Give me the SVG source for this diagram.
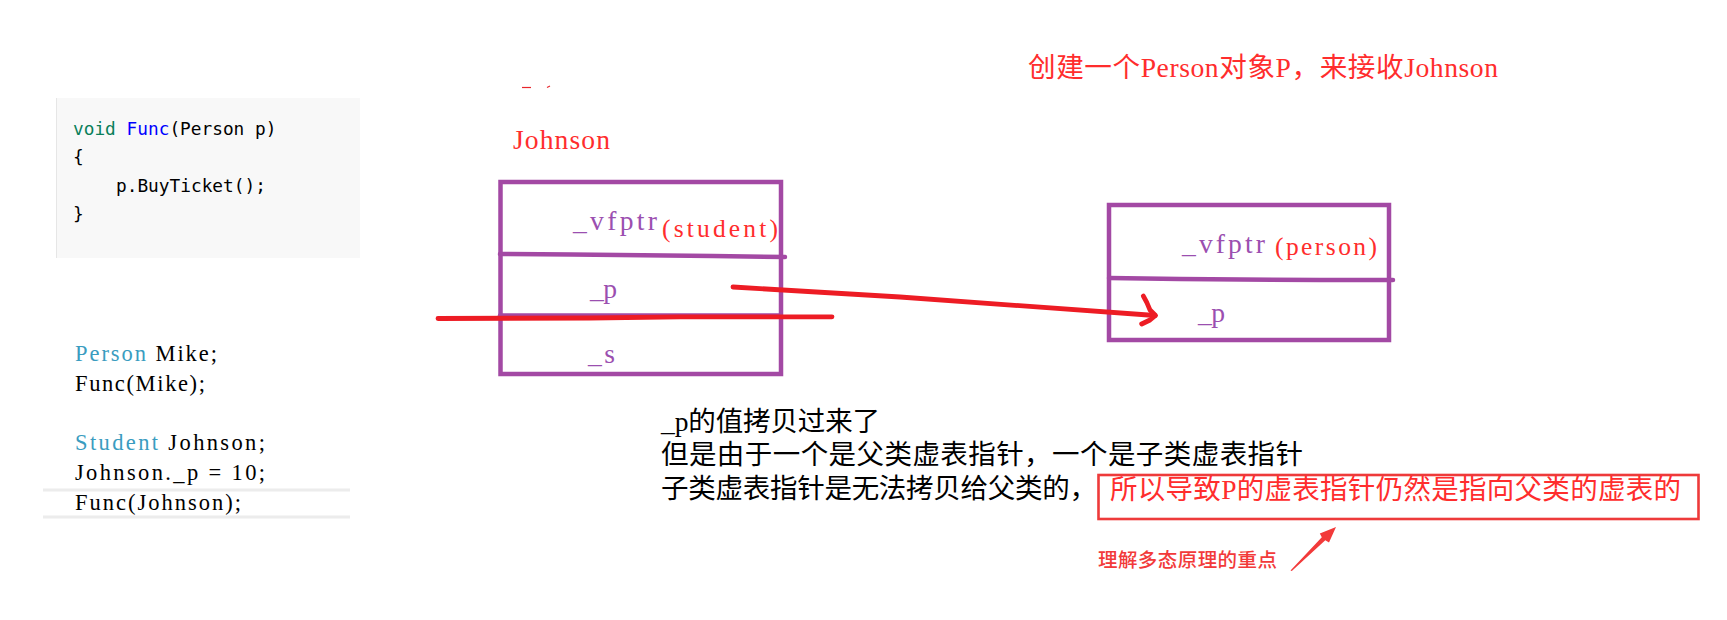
<svg xmlns="http://www.w3.org/2000/svg" width="1727" height="620" viewBox="0 0 1727 620">
<style>
.mono{font-family:"DejaVu Sans Mono","Liberation Mono",monospace;font-size:17.8px;fill:#000}
.ser{font-family:"Liberation Serif","Noto Sans CJK SC",serif;font-size:22.5px;fill:#000}
.lbl{font-family:"Liberation Serif","Noto Sans CJK SC",serif;font-size:27.6px}
.cjk{font-family:"Liberation Serif","Noto Sans CJK SC",sans-serif;font-size:27.5px;fill:#000}
.pur{fill:#9b4fb0}
.red{fill:#ff2d2d}
.box{fill:none;stroke:#a349a4;stroke-width:4.5}
.div{fill:none;stroke:#a349a4;stroke-width:4.5;stroke-linecap:round;stroke-linejoin:round}
.pen{fill:none;stroke:#ed1c24;stroke-width:4.8;stroke-linecap:round;stroke-linejoin:round}
</style>
<rect width="1727" height="620" fill="#fff"/>

<g id="code-func">
  <rect x="56" y="98" width="304" height="160" fill="#f8f8f8"/>
  <line x1="56.5" y1="98" x2="56.5" y2="258" stroke="#e6e6e6" stroke-width="1"/>
  <text class="mono" x="73" y="135"><tspan fill="#0a7f5a">void</tspan> <tspan fill="#0000ff">Func</tspan>(Person p)</text>
  <text class="mono" x="73" y="163">{</text>
  <text class="mono" x="116" y="192">p.BuyTicket();</text>
  <text class="mono" x="73" y="220">}</text>
</g>

<g id="code-call">
  <line x1="43" y1="490" x2="350" y2="490" stroke="#ececec" stroke-width="3"/>
  <line x1="43" y1="517" x2="350" y2="517" stroke="#ececec" stroke-width="3"/>
  <text class="ser" x="75" y="361" textLength="142" lengthAdjust="spacing"><tspan fill="#3a9cc0">Person</tspan> Mike;</text>
  <text class="ser" x="75" y="391" textLength="130" lengthAdjust="spacing">Func(Mike);</text>
  <text class="ser" x="75" y="450" textLength="190" lengthAdjust="spacing"><tspan fill="#3a9cc0">Student</tspan> Johnson;</text>
  <text class="ser" x="75" y="480" textLength="190" lengthAdjust="spacing">Johnson._p = 10;</text>
  <text class="ser" x="75" y="510" textLength="166" lengthAdjust="spacing">Func(Johnson);</text>
</g>

<g id="title">
  <text class="lbl red" x="1028" y="77" textLength="470" lengthAdjust="spacing">创建一个Person对象P，来接收Johnson</text>
</g>

<g id="fragment">
  <line x1="522" y1="87.5" x2="531" y2="87.5" stroke="#e8262c" stroke-width="1.2"/>
  <line x1="547" y1="87.5" x2="550" y2="86" stroke="#e8262c" stroke-width="1.2"/>
</g>

<g id="johnson-label">
  <text class="lbl red" x="513" y="149" textLength="97" lengthAdjust="spacing">Johnson</text>
</g>

<g id="student-object">
  <rect class="box" x="500.5" y="182" width="280.5" height="192"/>
  <polyline class="div" points="500,254 572,254.5 713,256 785,257"/>
  <line class="div" x1="500" y1="315.5" x2="781" y2="315.5"/>
  <text class="lbl pur" x="573" y="230" textLength="84" lengthAdjust="spacing">_vfptr</text>
  <text class="lbl red" x="662" y="237" font-size="25.5" style="font-size:25.5px" textLength="116" lengthAdjust="spacing">(student)</text>
  <text class="lbl pur" x="590" y="298" textLength="27" lengthAdjust="spacing">_p</text>
  <text class="lbl pur" x="588" y="363" textLength="27" lengthAdjust="spacing">_s</text>
</g>

<g id="person-object">
  <rect class="box" x="1109" y="205" width="280" height="135"/>
  <polyline class="div" points="1109,278 1180,279 1320,280 1393,280"/>
  <text class="lbl pur" x="1182" y="253" textLength="83" lengthAdjust="spacing">_vfptr</text>
  <text class="lbl red" x="1275" y="255" style="font-size:25.5px" textLength="102" lengthAdjust="spacing">(person)</text>
  <text class="lbl pur" x="1198" y="322" textLength="27" lengthAdjust="spacing">_p</text>
</g>

<g id="connectors">
  <polyline class="pen" points="438,318.5 590,318 680,316.8 832,316.8"/>
  <polyline class="pen" points="733,287 900,297 1155,315.5"/>
  <path class="pen" stroke-width="4" d="M1143.3,296 Q1147,302 1150,310 L1155.5,315.5 L1150,320 L1141.7,324"/>
  <polygon fill="#f23a3a" points="1290.5,570.5 1321.8,537.2 1319.8,533.6 1336,527 1329,542.6 1325.3,540.3 1291.8,571"/>
</g>

<g id="explanation">
  <text class="cjk" x="661" y="431" textLength="219" lengthAdjust="spacing">_p的值拷贝过来了</text>
  <text class="cjk" x="661" y="464" textLength="642" lengthAdjust="spacing">但是由于一个是父类虚表指针，一个是子类虚表指针</text>
  <text class="cjk" x="661" y="498" textLength="436" lengthAdjust="spacing">子类虚表指针是无法拷贝给父类的，</text>
</g>

<g id="emphasis-box">
  <rect x="1098.5" y="475" width="600" height="44" fill="none" stroke="#ee3a3a" stroke-width="2.6"/>
  <text class="cjk red" x="1110" y="499" textLength="571" lengthAdjust="spacing">所以导致P的虚表指针仍然是指向父类的虚表的</text>
</g>

<g id="note">
  <text x="1098" y="567" font-family="Noto Sans CJK SC, sans-serif" font-size="19.5" font-weight="500" fill="#f23a3a" textLength="179" lengthAdjust="spacing">理解多态原理的重点</text>
</g>
</svg>
